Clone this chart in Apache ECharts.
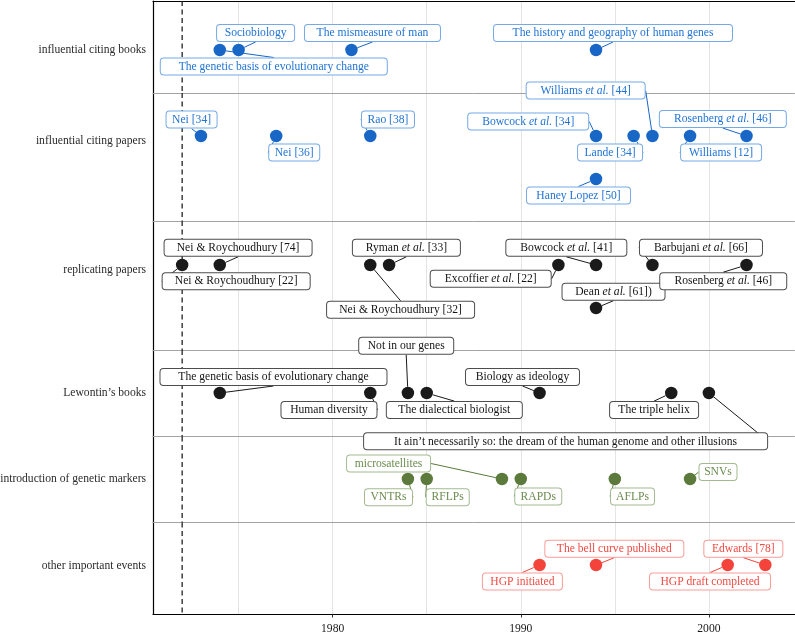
<!DOCTYPE html>
<html><head><meta charset="utf-8">
<script src="https://cdn.jsdelivr.net/npm/echarts@6/dist/echarts.min.js"></script>
<style>html,body{margin:0;padding:0;background:#fff}#c{width:795px;height:635px}</style>
</head><body><div id="c"></div>
<script>
// ---------------- DATA ----------------
const rowNames = ['influential citing books', 'influential citing papers', 'replicating papers',
  'Lewontin\u2019s books', 'introduction of genetic markers', 'other important events'];

const booksLabels = ['The genetic basis of evolutionary change', 'Sociobiology', 'The mismeasure of man',
  'The history and geography of human genes'];
const booksYears = [1974, 1975, 1981, 1994];
const booksLevels = [0, 0, 0, 0];

const papersLabels = ['Nei [34]', 'Nei [36]', 'Rao [38]', 'Bowcock et al. [34]', 'Lande [34]',
  'Williams et al. [44]', 'Williams [12]', 'Rosenberg et al. [46]', 'Haney Lopez [50]'];
const papersYears = [1973, 1977, 1982, 1994, 1996, 1997, 1999, 2002, 1994];
const papersLevels = [0, 0, 0, 0, 0, 0, 0, 0, 1];

const replLabels = ['Nei & Roychoudhury [22]', 'Nei & Roychoudhury [74]', 'Nei & Roychoudhury [32]',
  'Ryman et al. [33]', 'Excoffier et al. [22]', 'Bowcock et al. [41]', 'Dean et al. [61])',
  'Barbujani et al. [66]', 'Rosenberg et al. [46]'];
const replYears = [1972, 1974, 1982, 1983, 1992, 1994, 1994, 1997, 2002];
const replLevels = [0, 0, 0, 0, 0, 0, 1, 0, 0];

const lewLabels = ['The genetic basis of evolutionary change', 'Human diversity', 'Not in our genes',
  'The dialectical biologist', 'Biology as ideology', 'The triple helix',
  'It ain\u2019t necessarily so: the dream of the human genome and other illusions'];
const lewYears = [1974, 1982, 1984, 1985, 1991, 1998, 2000];
const lewLevels = [0, 0, 0, 0, 0, 0, 0];

const markerLabels = ['VNTRs', 'RFLPs', 'microsatellites', 'RAPDs', 'AFLPs', 'SNVs'];
const markerYears = [1984, 1985, 1989, 1990, 1995, 1999];
const markerLevels = [0, 0, 0, 0, 0, 0];

const eventLabels = ['HGP initiated', 'The bell curve published', 'HGP draft completed', 'Edwards [78]'];
const eventYears = [1991, 1994, 2001, 2003];
const eventLevels = [0, 0, 0, 0];

const xTickLabels = [1980, 1990, 2000];
const xGridValues = [1975, 1980, 1985, 1990, 1995, 2000];
const referenceYear = 1972;

// ---------------- LAYOUT / STYLE ----------------
const FONT = '"Liberation Serif", "Times New Roman", serif';
const FS = 11.6;
const LEVEL_PX = 43;
const PLOT_LEFT = 153, PLOT_WIDTH = 641.5;
// per row: grid top, height, px from top to level 0, label shift (px)
const rowLayout = [
  { top: 1, height: 92, pad: 49, labelShift: 0 },
  { top: 93, height: 128, pad: 43, labelShift: 5 },
  { top: 221, height: 129, pad: 44, labelShift: 5 },
  { top: 350, height: 86.5, pad: 43, labelShift: 0 },
  { top: 436.5, height: 86, pad: 42.5, labelShift: 0 },
  { top: 522.5, height: 92, pad: 42.5, labelShift: 1 }
];
// repel offsets of label centres from points (px)
const labelNudges = [
  [[54, 16.5], [17, -17], [21, -17], [17, -17]],
  [[-9.4, -16.4], [18, 16.6], [17.7, -16.4], [-67.8, -14.5], [-23.6, 16.6], [-66.8, -45.4], [31, 16.6], [-23.7, -16.9], [-17.5, 16.5]],
  [[54, 16.2], [18.3, -17.2], [30.3, 44.8], [17.3, -17.2], [-67.7, 13.7], [-29.7, -17.2], [17.5, -16.3], [48.5, -17.2], [-23.3, 16.2]],
  [[53.7, -16], [-41.3, 17.1], [-1.7, -47.2], [27.6, 17.1], [-17.1, -16], [-17.2, 17.1], [-143.3, 48.3]],
  [[-19.4, 18.2], [21, 18.2], [-113.4, -15.5], [17.5, 17.4], [17.7, 17.4], [27.9, -6.9]],
  [[-17.2, 16.5], [18.3, -16.3], [-17.7, 16.5], [-22, -16.3]]
];
const blue = { point: '#1866c6', text: '#2173d3', border: '#74a9e6' };
const black = { point: '#1a1a1a', text: '#141414', border: '#4d4d4d' };
const green = { point: '#5b7a3c', text: '#6b8c4f', border: '#a3ba90' };
const red = { point: '#f3433b', text: '#f24a42', border: '#f89d98' };
const rowStyles = [blue, blue, black, black, green, red];

const groups = [
  [booksLabels, booksYears, booksLevels],
  [papersLabels, papersYears, papersLevels],
  [replLabels, replYears, replLevels],
  [lewLabels, lewYears, lewLevels],
  [markerLabels, markerYears, markerLevels],
  [eventLabels, eventYears, eventLevels]
];

const allYears = groups.flatMap(g => g[1]);
const yrMin = Math.min(...allYears), yrMax = Math.max(...allYears);
const expand = (yrMax - yrMin) * 0.05;
const xMin = yrMin - expand, xMax = yrMax + expand;

// text measurement for label boxes
const ctx = document.createElement('canvas').getContext('2d');
function boxWidth(s) {
  const parts = s.split('et al.');
  let w = 0;
  parts.forEach((p, i) => {
    ctx.font = FS + 'px ' + FONT;
    w += ctx.measureText(p).width;
    if (i < parts.length - 1) {
      ctx.font = 'italic ' + FS + 'px ' + FONT;
      w += ctx.measureText('et al.').width;
    }
  });
  return Math.round(w * 1.16 + 5 + (parts.length > 1 ? 8 : 0));
}

const SYM = 12.5;
const grids = [], xAxes = [], yAxes = [], series = [];
rowLayout.forEach((L, i) => {
  const st = rowStyles[i];
  const [labels, years, levels] = groups[i];
  const nud = labelNudges[i];
  grids.push({ left: PLOT_LEFT, width: PLOT_WIDTH, top: L.top, height: L.height, containLabel: false, outerBoundsMode: 'none' });
  const last = i === rowLayout.length - 1;
  xAxes.push({
    gridIndex: i, type: 'value', min: xMin, max: xMax, position: 'bottom',
    axisLine: { show: true, onZero: false, lineStyle: { color: last ? '#000' : '#a3a3a3', width: last ? 1.2 : 1 } },
    axisTick: { show: last, customValues: xTickLabels, length: 3, lineStyle: { color: '#333' } },
    axisLabel: { show: last, customValues: xTickLabels, formatter: v => String(v), fontFamily: FONT, fontSize: FS, color: '#1a1a1a', margin: 8 },
    splitLine: { show: false }
  });
  xAxes.push({
    gridIndex: i, type: 'value', min: xMin, max: xMax, position: 'top',
    axisLine: { show: i === 0, onZero: false, lineStyle: { color: '#000', width: 1.2 } },
    axisTick: { show: false, customValues: xGridValues },
    axisLabel: { show: false },
    splitLine: { show: true, lineStyle: { color: '#e4e4e4', width: 1 } }
  });
  const yMinV = -L.pad / LEVEL_PX, yMaxV = (L.height - L.pad) / LEVEL_PX;
  yAxes.push({
    gridIndex: i, type: 'value', inverse: true, min: yMinV, max: yMaxV,
    axisLine: { show: true, onZero: false, lineStyle: { color: '#000', width: 1.2 } },
    axisTick: { show: false },
    splitLine: { show: false },
    axisLabel: {
      customValues: [L.labelShift / LEVEL_PX], formatter: () => rowNames[i],
      fontFamily: FONT, fontSize: FS, color: '#2b2b2b', margin: 7
    }
  });
  // reference (dashed) line spanning the whole panel
  series.push({
    type: 'line', xAxisIndex: 2 * i, yAxisIndex: i, z: 1, silent: true,
    symbol: 'none', showSymbol: false,
    lineStyle: { type: [5, 3.5], color: '#222', width: 1.3 },
    data: [[referenceYear, yMinV], [referenceYear, yMaxV]]
  });
  series.push({
    type: 'scatter', xAxisIndex: 2 * i, yAxisIndex: i, z: 3,
    symbolSize: SYM,
    itemStyle: { color: st.point, opacity: 1 },
    data: labels.map((lab, k) => ({
      name: lab, value: [years[k], levels[k]],
      label: { width: boxWidth(lab) }
    })),
    label: {
      show: true, position: 'inside', align: 'center', verticalAlign: 'middle',
      formatter: p => p.name.replace('et al.', '{i|et al.}'),
      fontFamily: FONT, fontSize: FS, color: st.text, lineHeight: 12.5,
      backgroundColor: '#fff', borderColor: st.border, borderWidth: 1, borderRadius: 3,
      padding: [2, 0, 1.5, 0],
      rich: { i: { fontStyle: 'italic', fontFamily: FONT, fontSize: FS, color: st.text, lineHeight: 12.5 } }
    },
    labelLine: { show: true, length2: 0, lineStyle: { color: st.point, width: 1 } },
    labelLayout: p => {
      const [dx, dy] = nud[p.dataIndex];
      const r = p.rect, lr = p.labelRect;
      const px = r.x + r.width / 2, py = r.y + r.height / 2;
      const cx = lr.x + lr.width / 2 + dx, cy = lr.y + lr.height / 2 + dy;
      const vx = px - cx, vy = py - cy;
      const hw = lr.width / 2, hh = lr.height / 2;
      const t = Math.min(vx !== 0 ? hw / Math.abs(vx) : Infinity, vy !== 0 ? hh / Math.abs(vy) : Infinity);
      const ex = cx + vx * t, ey = cy + vy * t;
      const len = Math.hypot(vx, vy);
      const rad = r.width / 2;
      let pts;
      if (t >= 1 || Math.hypot(px - ex, py - ey) <= rad) {
        pts = [[px, py], [px, py]];
      } else {
        pts = [[px - vx / len * rad, py - vy / len * rad], [ex, ey]];
      }
      return { dx, dy, labelLinePoints: pts };
    },
    emphasis: { disabled: true }
  });
});

const chart = echarts.init(document.getElementById('c'), null, { renderer: 'canvas' });
chart.setOption({
  animation: false,
  backgroundColor: '#fff',
  grid: grids, xAxis: xAxes, yAxis: yAxes, series
});
</script></body></html>
